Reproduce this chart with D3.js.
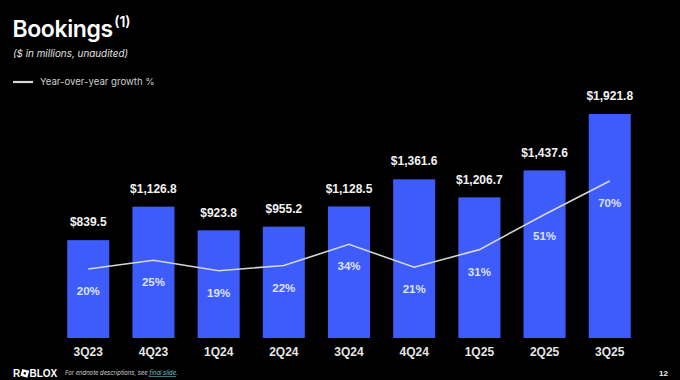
<!DOCTYPE html>
<html>
<head>
<meta charset="utf-8">
<script src="https://cdn.jsdelivr.net/npm/d3@7/dist/d3.min.js"></script>
<style>
html,body{margin:0;padding:0;background:#000;}
svg{display:block;}
</style>
</head>
<body>
<svg id="chart" width="680" height="380"></svg>
<script>
const categories = ["3Q23","4Q23","1Q24","2Q24","3Q24","4Q24","1Q25","2Q25","3Q25"];
const bookings = [839.5,1126.8,923.8,955.2,1128.5,1361.6,1206.7,1437.6,1921.8];
const growth = [20,25,19,22,34,21,31,51,70];
const bookingLabels = ["$839.5","$1,126.8","$923.8","$955.2","$1,128.5","$1,361.6","$1,206.7","$1,437.6","$1,921.8"];
const growthLabels = ["20%","25%","19%","22%","34%","21%","31%","51%","70%"];

const svg = d3.select("#chart");
svg.append("rect").attr("width",680).attr("height",380).attr("fill","#000");

const x = d3.scaleBand().domain(categories).range([55.5,642.5]).paddingInner(0.355).paddingOuter(0.18);
const y = d3.scaleLinear().domain([0,1921.8]).range([338,114]);
const yg = d3.scaleLinear().domain([0,70]).range([304.2,181]);

const fontB = "'Liberation Sans', Arial, sans-serif";

// bars
svg.append("g").selectAll("rect").data(categories).join("rect")
  .attr("x", d => x(d)).attr("width", x.bandwidth())
  .attr("y", (d,i) => y(bookings[i])).attr("height", (d,i) => y(0) - y(bookings[i]))
  .attr("fill", "#3d5cfb");

// value labels
svg.append("g").selectAll("text").data(categories).join("text")
  .attr("x", d => x(d) + x.bandwidth()/2)
  .attr("y", (d,i) => y(bookings[i]) - 18)
  .attr("dy","0.35em")
  .attr("text-anchor","middle")
  .attr("font-family", fontB).attr("font-weight","bold").attr("font-size",12)
  .attr("fill","#f2f2f2")
  .text((d,i) => bookingLabels[i]);

// growth line
const line = d3.line().x((d,i) => x(categories[i]) + x.bandwidth()/2).y(d => yg(d));
svg.append("path").datum(growth).attr("d", line)
  .attr("fill","none").attr("stroke","#d6d6d6").attr("stroke-width",1.6);

// growth labels
svg.append("g").selectAll("text").data(categories).join("text")
  .attr("x", d => x(d) + x.bandwidth()/2)
  .attr("y", (d,i) => yg(growth[i]) + 22)
  .attr("dy","0.35em")
  .attr("text-anchor","middle")
  .attr("font-family", fontB).attr("font-weight","bold").attr("font-size",11.5)
  .attr("fill","#dfe3ff")
  .text((d,i) => growthLabels[i]);

// x axis
const xAxis = svg.append("g").attr("transform","translate(0,352)")
  .call(d3.axisBottom(x).tickSize(0).tickPadding(0));
xAxis.select(".domain").remove();
xAxis.selectAll("text").attr("font-family", fontB).attr("font-weight","bold")
  .attr("font-size",12).attr("fill","#e6e6e6").attr("dy","0.35em").attr("y",0);

// title
const title = svg.append("text").attr("x",12.5).attr("y",37)
  .attr("font-family","Inter, 'Noto Sans', sans-serif").attr("font-weight",600)
  .attr("font-size",23).attr("fill","#fff").attr("letter-spacing",-0.4);
title.append("tspan").text("Bookings");
title.append("tspan").attr("font-size",14).attr("dy",-10).attr("dx",1.5).attr("letter-spacing",0).text("(1)");

svg.append("text").attr("x",13).attr("y",56.5)
  .attr("font-family","Inter, 'Noto Sans', sans-serif").attr("font-style","italic")
  .attr("font-size",9.9).attr("fill","#e0e0e0").text("($ in millions, unaudited)");

// legend
svg.append("line").attr("x1",13).attr("x2",33).attr("y1",82).attr("y2",82)
  .attr("stroke","#d6d6d6").attr("stroke-width",2.2);
svg.append("text").attr("x",40).attr("y",82).attr("dy","0.35em")
  .attr("font-family","Inter, 'Noto Sans', sans-serif")
  .attr("font-size",9.6).attr("fill","#cfcfcf").text("Year-over-year growth %");

// footer logo
const logo = svg.append("g").attr("fill","#fff")
  .attr("font-family", fontB).attr("font-weight","bold").attr("font-size",10);
logo.append("text").attr("x",13).attr("y",377).text("R");
logo.append("rect").attr("x",-3.6).attr("y",-3.6).attr("width",7.2).attr("height",7.2)
  .attr("transform","translate(24.8,373.3) rotate(15)").attr("fill","#fff");
logo.append("rect").attr("x",-1.1).attr("y",-1.1).attr("width",2.2).attr("height",2.2)
  .attr("transform","translate(24.8,373.3) rotate(15)").attr("fill","#000");
logo.append("text").attr("x",29.5).attr("y",377).text("BLOX");

const foot = svg.append("text").attr("x",65).attr("y",375)
  .attr("font-family","Inter, 'Noto Sans', sans-serif").attr("font-style","italic")
  .attr("font-size",5.9).attr("fill","#cfcfcf");
foot.append("tspan").text("For endnote descriptions, see ");
foot.append("tspan").attr("fill","#6fc6d6").attr("text-decoration","underline").text("final slide");
foot.append("tspan").text(".");

svg.append("text").attr("x",668).attr("y",376).attr("text-anchor","end")
  .attr("font-family", fontB).attr("font-weight","bold").attr("font-size",8)
  .attr("fill","#eee").text("12");
</script>
</body>
</html>
